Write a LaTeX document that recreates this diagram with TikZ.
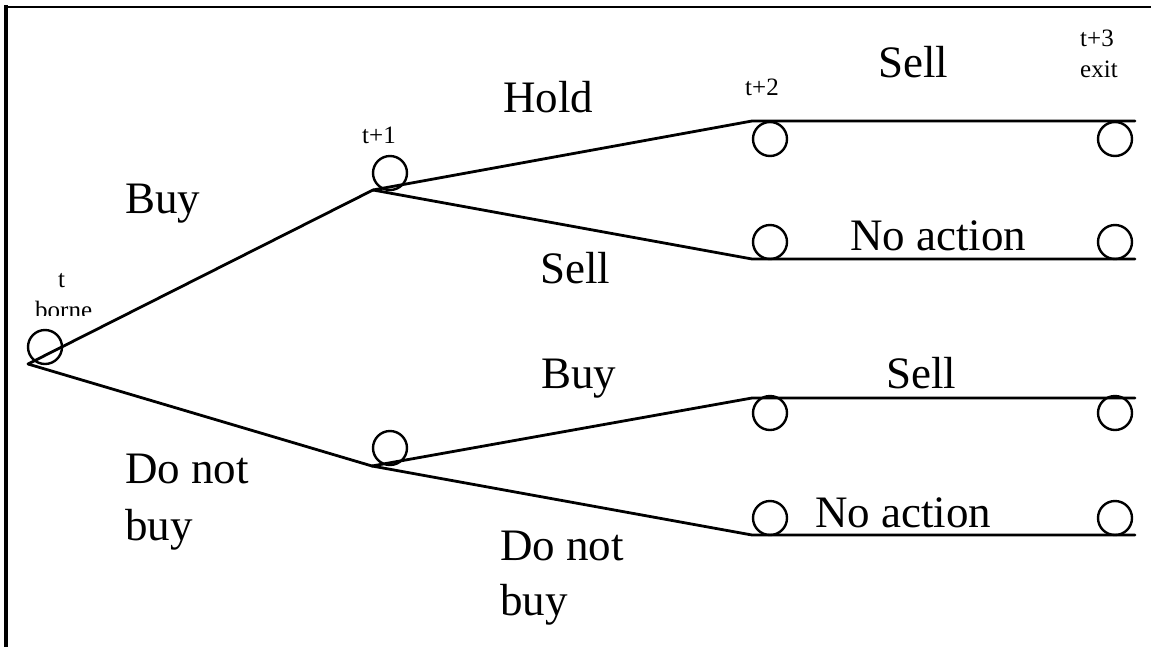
\documentclass[tikz,border=0pt]{standalone}
\usepackage{fontspec}
\setmainfont{Liberation Serif}
\begin{document}
\begin{tikzpicture}[x=1pt,y=-1pt,
  edge/.style={line width=2.8pt, line cap=round, line join=round},
  state/.style={circle, draw, line width=2.4pt, minimum size=34pt, inner sep=0pt},
  big/.style={font=\fontsize{45}{56}\selectfont, anchor=base west, inner sep=0pt},
  small/.style={font=\fontsize{25}{31}\selectfont, anchor=base west, inner sep=0pt, align=left}]
\useasboundingbox (0,0) rectangle (1151,646);
% frame
\draw[line width=3.2pt] (6,650) -- (6,5.4);
\draw[line width=2.6pt] (4.4,7) -- (1155,7);
% vertices
\coordinate (r) at (28,364);
\coordinate (a) at (373,190);
\coordinate (b) at (372,466);
\coordinate (a1) at (752,121);
\coordinate (a2) at (752,259);
\coordinate (b1) at (752,398);
\coordinate (b2) at (752,535);
\coordinate (a1e) at (1135,121);
\coordinate (a2e) at (1135,259);
\coordinate (b1e) at (1135,398);
\coordinate (b2e) at (1135,535);
% connectors
\draw[edge] (r) -- (a);
\draw[edge] (r) -- (b);
\draw[edge] (a) -- (a1) -- (a1e);
\draw[edge] (a) -- (a2) -- (a2e);
\draw[edge] (b) -- (b1) -- (b1e);
\draw[edge] (b) -- (b2) -- (b2e);
% circles
\node[state] (cr) at (45,347) {};
\node[state] (ca) at (390,173) {};
\node[state] (cb) at (390,448) {};
\node[state] (ca1) at (770,139) {};
\node[state] (ca2) at (770,242) {};
\node[state] (cb1) at (770,413) {};
\node[state] (cb2) at (770,518) {};
\node[state] (ea1) at (1115,139) {};
\node[state] (ea2) at (1115,242) {};
\node[state] (eb1) at (1115,413) {};
\node[state] (eb2) at (1115,518) {};
% big labels
\node[big] (l1) at (125,213) {Buy};
\node[big] (l2) at (503,112) {Hold};
\node[big] (l3) at (540,283) {Sell};
\node[big] (l4) at (878,77) {Sell};
\node[big] (l5) at (850,250) {No action};
\node[big] (l6) at (541,388) {Buy};
\node[big] (l7) at (886,388) {Sell};
\node[big] (l8) at (125,483) {Do not};
\node[big] (l9) at (125,540) {buy};
\node[big] (l10) at (500,560) {Do not};
\node[big] (l11) at (500,615) {buy};
\node[big] (l12) at (815,527) {No action};
% small labels
\node[small] (s1) at (362,143) {t+1};
\node[small] (s2) at (745,95) {t+2};
\node[small] (s3) at (1080,46) {t+3};
\node[small] (s4) at (1080,77) {exit};
\node[small] (s5) at (58,287) {t};
\begin{scope}
\clip (0,250) rectangle (120,315);
\node[small] (s6) at (35,318) {borne};
\end{scope}
\end{tikzpicture}
\end{document}
